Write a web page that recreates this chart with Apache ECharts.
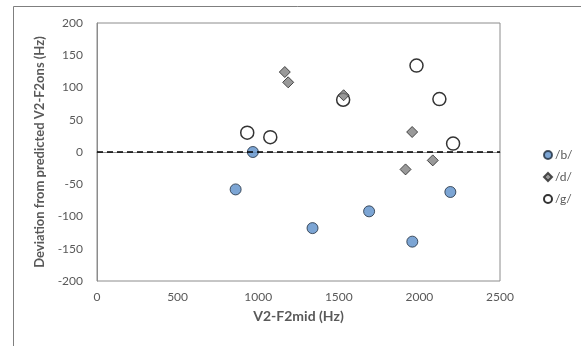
<!DOCTYPE html>
<html>
<head>
<meta charset="utf-8">
<script src="https://cdn.jsdelivr.net/npm/echarts@6/dist/echarts.min.js"></script>
<style>
 html, body { margin: 0; padding: 0; background: #fff; }
 #chart { width: 581px; height: 346px; }
</style>
</head>
<body>
<div id="chart"></div>
<script>
// values: [V2-F2mid, deviation]
const bPoints = [
 [860, -58],
 [967, 0],
 [1337, -118],
 [1688, -92],
 [1956, -139],
 [2192, -62],
];
const dPoints = [
 [1165, 124],
 [1186, 108],
 [1530, 88],
 [1914, -27],
 [1955, 31],
 [2083, -13],
];
const gPoints = [
 [932, 30],
 [1075, 23],
 [1527, 81],
 [1982, 134],
 [2124, 82],
 [2209, 13],
];
const seriesNames = ['/b/', '/d/', '/g/'];

const labelColor = '#595959';
const fontFamily = 'Lato, "Open Sans", sans-serif';

const chart = echarts.init(document.getElementById('chart'), null, { renderer: 'canvas' });

chart.setOption({
 backgroundColor: '#fff',
 animation: false,
 textStyle: { fontFamily: fontFamily },
 graphic: [
  {
   type: 'rect',
   shape: { x: 13.5, y: 6.5, width: 600, height: 400 },
   style: { fill: 'none', stroke: '#7f7f7f', lineWidth: 1 },
   silent: true,
  },
 ],
 grid: {
  left: 97,
  right: 81,
  top: 23,
  bottom: 65,
  show: true,
  borderColor: '#8c8c8c',
  borderWidth: 1,
 },
 legend: {
  orient: 'vertical',
  left: 538,
  top: 144,
  itemGap: 10,
  itemWidth: 8,
  itemHeight: 8,
  textStyle: { color: labelColor, fontSize: 12, fontFamily: fontFamily, padding: [0, 0, 0, -2] },
  data: seriesNames,
 },
 xAxis: {
  type: 'value',
  min: 0,
  max: 2500,
  interval: 500,
  name: 'V2-F2mid (Hz)',
  nameLocation: 'middle',
  nameGap: 28,
  nameTextStyle: { color: labelColor, fontWeight: 'bold', fontSize: 14 },
  axisLine: { show: true, lineStyle: { color: '#8c8c8c' } },
  axisTick: { show: false },
  splitLine: { show: false },
  axisLabel: {
   color: labelColor,
   fontSize: 12,
   margin: 10,
   formatter: (value) => String(value),
  },
 },
 yAxis: {
  type: 'value',
  min: -200,
  max: 200,
  interval: 50,
  name: 'Deviation from predicted V2-F2ons (Hz)',
  nameLocation: 'middle',
  nameGap: 47,
  nameTextStyle: { color: labelColor, fontWeight: 'bold', fontSize: 13 },
  axisLine: { show: true, lineStyle: { color: '#8c8c8c' } },
  axisTick: { show: false },
  splitLine: { show: false },
  axisLabel: { color: labelColor, fontSize: 12, margin: 14 },
 },
 series: [
  {
   name: seriesNames[0],
   type: 'scatter',
   symbol: 'circle',
   symbolSize: 11,
   itemStyle: { color: '#5b8fc9', borderColor: '#1f2d3d', borderWidth: 1 },
   data: bPoints,
   z: 3,
   markLine: {
    silent: true,
    symbol: 'none',
    label: { show: false },
    lineStyle: { color: '#000', type: [6, 4], width: 1.5 },
    data: [{ yAxis: 0 }],
   },
  },
  {
   name: seriesNames[1],
   type: 'scatter',
   symbol: 'diamond',
   symbolSize: 11,
   itemStyle: { color: '#808080', borderColor: '#262626', borderWidth: 1 },
   data: dPoints,
   z: 4,
  },
  {
   name: seriesNames[2],
   type: 'scatter',
   symbol: 'circle',
   symbolSize: 13,
   itemStyle: { color: '#fff', borderColor: '#000', borderWidth: 1.5 },
   data: gPoints,
   z: 2,
  },
 ],
});
</script>
</body>
</html>
